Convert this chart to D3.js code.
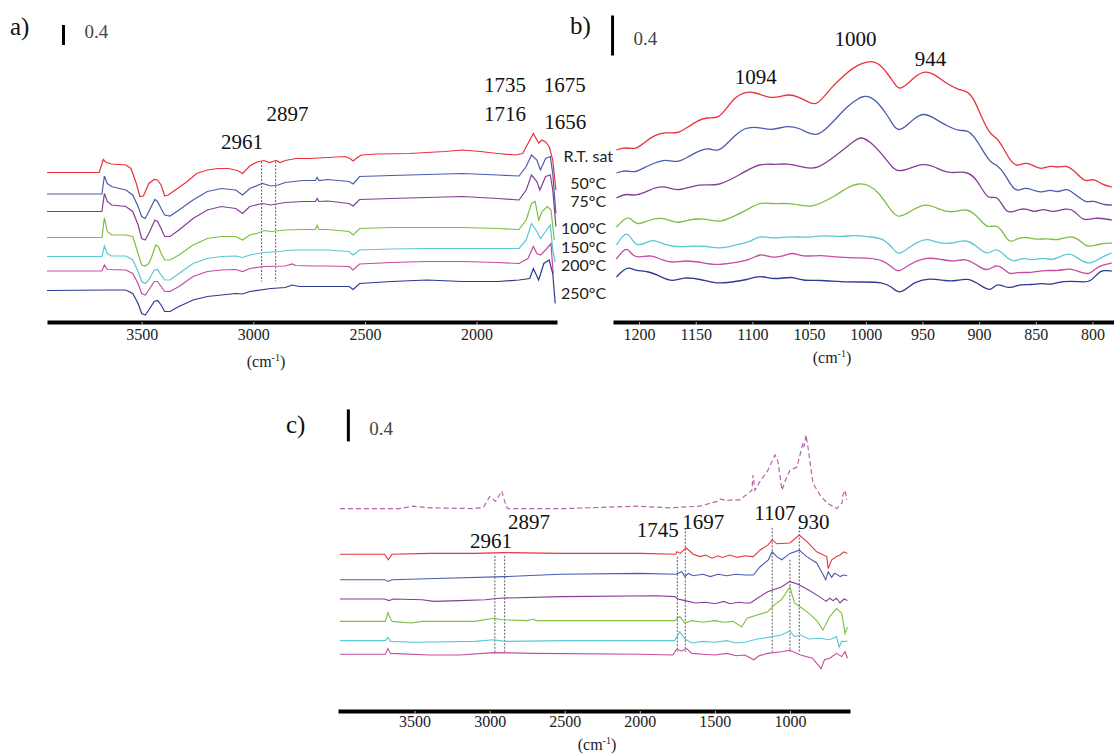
<!DOCTYPE html>
<html><head><meta charset="utf-8">
<script src="https://cdn.jsdelivr.net/npm/d3@7"></script>
<style>
body{margin:0;background:#fff}
svg{display:block}
.serif{font-family:"Liberation Serif","DejaVu Serif","Noto Serif","Times New Roman",Times,serif}
.sans{font-family:Lato,"Open Sans","Liberation Sans",sans-serif}
</style></head><body>
<svg id="chart" width="1114" height="754"></svg>
<script>
// ---------- DATA ----------
const seriesNames = ["R.T. sat", "50°C", "75°C", "100°C", "150°C", "200°C", "250°C"];
const seriesColors = ["#e8333c", "#4c5cab", "#853e96", "#7dbf42", "#5ac8d6", "#c54c9f", "#2f3893"];

const aTicks = [3500, 3000, 2500, 2000];
const bTicks = [1200, 1150, 1100, 1050, 1000, 950, 900, 850, 800];
const cTicks = [3500, 3000, 2500, 2000, 1500, 1000];

// Panel a (wavenumber, absorbance offset)
const aRT = [[3924,2.99],[3690,2.99],[3672,3.25],[3659,3.19],[3635,3.16],[3571,3.14],[3548,3.07],[3524,2.77],[3508,2.51],[3492,2.52],[3468,2.77],[3444,2.85],[3429,2.84],[3413,2.74],[3397,2.52],[3381,2.54],[3349,2.64],[3302,2.79],[3254,2.97],[3206,3.04],[3159,3.07],[3111,3.07],[3071,3.03],[3048,2.97],[3016,3.12],[2984,3.20],[2952,3.23],[2929,3.19],[2913,3.21],[2897,3.23],[2881,3.19],[2857,3.23],[2810,3.27],[2746,3.27],[2667,3.29],[2587,3.31],[2564,3.26],[2553,3.22],[2540,3.27],[2516,3.34],[2445,3.36],[2302,3.37],[2143,3.41],[2064,3.44],[1984,3.41],[1905,3.37],[1826,3.34],[1794,3.37],[1770,3.57],[1746,3.77],[1722,3.58],[1707,3.64],[1691,3.60],[1675,3.51],[1659,3.24],[1645,2.64]];
const a50 = [[3924,2.56],[3678,2.56],[3667,2.92],[3654,2.77],[3635,2.71],[3571,2.64],[3540,2.54],[3516,2.31],[3500,2.11],[3484,2.07],[3468,2.21],[3441,2.45],[3429,2.41],[3413,2.27],[3397,2.14],[3373,2.12],[3333,2.24],[3270,2.44],[3206,2.61],[3143,2.67],[3079,2.64],[3048,2.54],[3016,2.67],[2960,2.77],[2921,2.72],[2889,2.74],[2857,2.79],[2778,2.83],[2722,2.83],[2714,2.89],[2706,2.83],[2667,2.85],[2571,2.81],[2553,2.76],[2524,2.91],[2381,2.93],[2222,2.95],[2064,2.97],[1905,2.94],[1810,2.92],[1778,3.11],[1754,3.34],[1730,3.24],[1714,3.04],[1691,3.27],[1670,3.31],[1659,2.97],[1645,2.17]];
const a75 = [[3924,2.21],[3678,2.21],[3667,2.57],[3654,2.41],[3635,2.34],[3571,2.31],[3540,2.21],[3516,1.94],[3500,1.67],[3484,1.64],[3468,1.77],[3441,2.04],[3429,2.01],[3413,1.87],[3397,1.71],[3373,1.71],[3333,1.84],[3270,2.07],[3206,2.24],[3143,2.31],[3079,2.27],[3048,2.17],[3016,2.31],[2960,2.37],[2921,2.34],[2857,2.39],[2778,2.41],[2722,2.41],[2714,2.47],[2706,2.41],[2667,2.42],[2571,2.37],[2553,2.32],[2524,2.45],[2381,2.47],[2222,2.49],[2064,2.51],[1905,2.47],[1810,2.44],[1778,2.64],[1754,2.94],[1730,2.81],[1717,2.64],[1691,2.91],[1670,2.94],[1659,2.64],[1645,1.91]];
const a100 = [[3924,1.69],[3678,1.69],[3667,2.09],[3654,1.81],[3635,1.74],[3571,1.74],[3540,1.71],[3516,1.37],[3500,1.14],[3484,1.12],[3468,1.17],[3452,1.34],[3437,1.54],[3425,1.51],[3413,1.37],[3397,1.24],[3373,1.24],[3333,1.34],[3270,1.54],[3206,1.67],[3143,1.71],[3079,1.71],[3048,1.64],[3016,1.74],[2984,1.77],[2952,1.83],[2921,1.81],[2857,1.84],[2778,1.85],[2722,1.85],[2714,1.93],[2706,1.85],[2667,1.85],[2571,1.81],[2553,1.74],[2524,1.87],[2381,1.89],[2222,1.89],[2064,1.89],[1905,1.87],[1810,1.85],[1778,2.04],[1754,2.37],[1738,2.41],[1722,2.04],[1707,2.21],[1683,2.31],[1667,2.24],[1652,1.64]];
const a150 = [[3924,1.31],[3678,1.31],[3667,1.52],[3654,1.37],[3635,1.32],[3571,1.32],[3540,1.24],[3516,1.01],[3500,0.81],[3484,0.77],[3468,0.84],[3444,1.04],[3429,1.05],[3413,0.94],[3397,0.84],[3373,0.84],[3333,0.97],[3270,1.17],[3206,1.27],[3143,1.31],[3079,1.32],[3048,1.29],[3016,1.34],[2952,1.39],[2889,1.41],[2826,1.44],[2746,1.44],[2667,1.44],[2571,1.41],[2553,1.34],[2524,1.44],[2381,1.46],[2222,1.47],[2064,1.47],[1905,1.47],[1810,1.47],[1778,1.64],[1754,1.97],[1730,1.81],[1714,1.67],[1691,1.81],[1670,1.94],[1659,1.44],[1648,1.20]];
const a200 = [[3924,1.02],[3678,1.02],[3667,1.14],[3654,1.05],[3571,1.04],[3540,0.97],[3516,0.77],[3500,0.57],[3484,0.54],[3468,0.64],[3444,0.81],[3429,0.81],[3413,0.71],[3397,0.61],[3373,0.61],[3333,0.71],[3270,0.91],[3206,1.01],[3143,1.04],[3079,1.05],[3048,1.01],[3016,1.07],[2952,1.11],[2857,1.12],[2826,1.16],[2810,1.13],[2730,1.12],[2667,1.12],[2571,1.11],[2553,1.04],[2524,1.16],[2381,1.19],[2222,1.21],[2064,1.21],[1905,1.19],[1810,1.17],[1770,1.27],[1746,1.51],[1730,1.37],[1714,1.34],[1691,1.44],[1667,1.57],[1657,0.97]];
const a250 = [[3924,0.63],[3651,0.64],[3571,0.64],[3540,0.57],[3516,0.37],[3500,0.17],[3484,0.14],[3468,0.24],[3444,0.41],[3429,0.43],[3413,0.34],[3397,0.21],[3373,0.21],[3333,0.31],[3270,0.44],[3206,0.51],[3143,0.54],[3079,0.57],[3048,0.56],[3016,0.61],[2921,0.67],[2857,0.69],[2826,0.74],[2794,0.71],[2699,0.71],[2571,0.71],[2553,0.65],[2524,0.77],[2381,0.81],[2222,0.84],[2064,0.81],[1905,0.81],[1810,0.84],[1762,0.87],[1746,1.07],[1722,0.84],[1699,1.17],[1675,1.24],[1659,0.97],[1648,0.37]];

// Panel b
const bRT = [[1220,1.72],[1212,1.75],[1203,1.72],[1195,1.80],[1186,1.87],[1177,1.90],[1166,1.88],[1157,1.95],[1149,2.01],[1140,2.05],[1130,2.03],[1122,2.15],[1115,2.25],[1107,2.30],[1099,2.30],[1092,2.27],[1084,2.24],[1076,2.25],[1068,2.28],[1059,2.25],[1051,2.20],[1045,2.17],[1039,2.22],[1030,2.35],[1019,2.47],[1010,2.55],[1003,2.59],[995,2.61],[989,2.59],[981,2.49],[975,2.39],[971,2.32],[964,2.37],[957,2.45],[949,2.51],[941,2.49],[933,2.42],[926,2.37],[918,2.32],[910,2.31],[904,2.22],[898,2.05],[890,1.87],[885,1.85],[879,1.75],[873,1.62],[867,1.55],[859,1.60],[853,1.57],[845,1.52],[837,1.57],[831,1.54],[823,1.57],[817,1.52],[811,1.45],[805,1.40],[799,1.44],[791,1.37],[783,1.35]];
const b50 = [[1220,1.49],[1212,1.52],[1203,1.49],[1195,1.55],[1186,1.59],[1177,1.63],[1166,1.59],[1157,1.65],[1146,1.72],[1138,1.74],[1130,1.70],[1122,1.79],[1115,1.87],[1107,1.94],[1099,1.95],[1092,1.94],[1084,1.92],[1076,1.94],[1068,1.96],[1059,1.94],[1051,1.89],[1043,1.86],[1034,1.94],[1025,2.05],[1016,2.16],[1006,2.24],[1002,2.26],[995,2.25],[989,2.19],[981,2.07],[975,1.95],[971,1.91],[964,1.96],[957,2.04],[949,2.09],[941,2.05],[933,1.99],[926,1.95],[918,1.91],[910,1.92],[904,1.85],[898,1.74],[890,1.59],[884,1.57],[878,1.49],[872,1.37],[867,1.30],[859,1.35],[853,1.32],[845,1.29],[837,1.33],[831,1.29],[823,1.34],[817,1.29],[811,1.24],[805,1.19],[799,1.22],[791,1.17],[783,1.17]];
const b75 = [[1220,1.24],[1211,1.29],[1203,1.25],[1186,1.35],[1177,1.36],[1166,1.30],[1146,1.39],[1130,1.35],[1109,1.49],[1093,1.59],[1081,1.57],[1070,1.59],[1053,1.54],[1043,1.53],[1028,1.65],[1009,1.82],[1005,1.85],[997,1.82],[981,1.62],[972,1.46],[949,1.62],[932,1.50],[923,1.49],[912,1.51],[902,1.44],[892,1.20],[884,1.29],[876,1.07],[867,1.12],[859,1.14],[851,1.09],[843,1.14],[836,1.09],[823,1.14],[816,1.12],[808,1.00],[799,1.05],[783,1.02]];
const b100 = [[1220,0.95],[1212,1.04],[1208,1.05],[1202,0.96],[1192,1.02],[1178,1.05],[1167,0.98],[1158,1.02],[1143,1.04],[1129,0.99],[1118,1.05],[1105,1.12],[1093,1.20],[1084,1.18],[1068,1.19],[1053,1.16],[1047,1.15],[1028,1.25],[1016,1.35],[1006,1.39],[997,1.37],[988,1.29],[980,1.15],[972,1.03],[963,1.09],[947,1.20],[935,1.12],[923,1.09],[912,1.14],[902,1.07],[893,0.93],[885,0.98],[879,0.90],[873,0.78],[867,0.84],[857,0.85],[850,0.82],[839,0.84],[831,0.81],[819,0.87],[811,0.82],[805,0.74],[795,0.78],[783,0.79]];
const b150 = [[1220,0.77],[1214,0.87],[1210,0.89],[1206,0.82],[1202,0.76],[1194,0.79],[1188,0.83],[1177,0.77],[1167,0.75],[1152,0.76],[1140,0.76],[1129,0.73],[1115,0.77],[1102,0.80],[1093,0.87],[1084,0.83],[1065,0.86],[1053,0.84],[1037,0.87],[1022,0.85],[1009,0.87],[997,0.85],[985,0.84],[977,0.75],[971,0.66],[963,0.74],[947,0.85],[938,0.79],[923,0.78],[912,0.83],[902,0.76],[893,0.66],[885,0.75],[878,0.67],[870,0.59],[861,0.65],[853,0.61],[843,0.65],[836,0.61],[826,0.67],[819,0.69],[811,0.62],[802,0.57],[792,0.65],[783,0.69]];
const b200 = [[1220,0.63],[1214,0.72],[1210,0.74],[1205,0.65],[1198,0.65],[1189,0.67],[1180,0.62],[1171,0.59],[1158,0.62],[1143,0.59],[1132,0.57],[1118,0.59],[1102,0.62],[1093,0.69],[1084,0.64],[1071,0.66],[1065,0.70],[1056,0.65],[1040,0.67],[1028,0.65],[1009,0.64],[997,0.64],[985,0.62],[977,0.55],[971,0.49],[963,0.57],[947,0.65],[935,0.63],[923,0.60],[912,0.64],[902,0.57],[893,0.50],[885,0.58],[879,0.54],[873,0.47],[867,0.50],[854,0.49],[842,0.52],[830,0.51],[820,0.54],[811,0.50],[803,0.47],[797,0.54],[791,0.57],[783,0.59]];
const b250 = [[1220,0.45],[1214,0.52],[1209,0.55],[1203,0.51],[1192,0.51],[1180,0.45],[1171,0.40],[1161,0.45],[1146,0.43],[1132,0.38],[1118,0.40],[1105,0.42],[1093,0.47],[1081,0.42],[1065,0.46],[1056,0.41],[1040,0.42],[1022,0.40],[1003,0.40],[985,0.40],[977,0.35],[971,0.28],[963,0.34],[957,0.40],[944,0.44],[929,0.41],[921,0.41],[910,0.44],[902,0.39],[895,0.34],[890,0.31],[884,0.39],[878,0.35],[871,0.34],[864,0.38],[854,0.37],[845,0.39],[837,0.37],[830,0.40],[820,0.41],[808,0.40],[802,0.40],[795,0.49],[791,0.52],[783,0.51]];

// Panel c
const cRef = [[3997,2.53],[3600,2.53],[3511,2.56],[3400,2.54],[3100,2.53],[3040,2.55],[3000,2.68],[2960,2.62],[2920,2.75],[2890,2.56],[2878,2.53],[2500,2.53],[2019,2.56],[1800,2.54],[1600,2.56],[1486,2.62],[1466,2.65],[1420,2.63],[1379,2.64],[1333,2.64],[1280,2.72],[1253,2.76],[1246,2.95],[1233,2.76],[1199,2.87],[1146,3.01],[1100,3.20],[1080,3.12],[1053,2.76],[1033,2.87],[1000,3.01],[953,3.05],[933,3.20],[913,3.35],[906,3.30],[893,3.45],[880,3.30],[847,2.85],[800,2.70],[753,2.60],[687,2.53],[653,2.60],[647,2.70],[633,2.76],[620,2.64]];
const cRT = [[3997,1.96],[3700,1.96],[3675,1.89],[3650,1.96],[3400,1.97],[3100,1.97],[2900,1.98],[2532,1.97],[2000,1.97],[1760,1.96],[1754,1.99],[1730,1.97],[1692,2.04],[1644,1.96],[1599,1.93],[1560,1.95],[1520,1.91],[1480,1.94],[1450,1.92],[1400,1.95],[1350,1.92],[1300,1.94],[1244,1.93],[1200,2.01],[1144,2.08],[1118,2.14],[1088,2.09],[1000,2.10],[938,2.20],[888,2.12],[822,1.99],[755,1.93],[745,1.78],[722,1.89],[690,1.93],[667,1.95],[640,1.99],[618,1.97]];
const c50 = [[3997,1.64],[3700,1.64],[3675,1.62],[3650,1.64],[3300,1.66],[2900,1.68],[2532,1.71],[2000,1.72],[1760,1.71],[1721,1.74],[1699,1.68],[1677,1.72],[1644,1.69],[1580,1.71],[1530,1.68],[1480,1.71],[1420,1.69],[1360,1.71],[1300,1.70],[1244,1.70],[1200,1.80],[1144,1.89],[1118,1.99],[1088,1.93],[1055,1.89],[1000,1.97],[938,2.01],[888,1.93],[822,1.85],[778,1.70],[762,1.64],[745,1.74],[722,1.67],[705,1.72],[689,1.71],[665,1.68],[645,1.70],[618,1.69]];
const c75 = [[3997,1.40],[3700,1.40],[3671,1.38],[3640,1.40],[3450,1.39],[3373,1.37],[3200,1.38],[3029,1.39],[2937,1.41],[2525,1.43],[1882,1.44],[1768,1.43],[1745,1.40],[1699,1.38],[1630,1.35],[1560,1.36],[1500,1.34],[1440,1.37],[1400,1.34],[1340,1.36],[1300,1.35],[1263,1.35],[1217,1.41],[1148,1.49],[1057,1.55],[1000,1.62],[943,1.58],[873,1.51],[804,1.43],[759,1.37],[735,1.41],[713,1.38],[690,1.41],[667,1.35],[640,1.40],[617,1.38]];
const c100 = [[3997,1.12],[3694,1.12],[3678,1.23],[3660,1.15],[3648,1.12],[3522,1.10],[3450,1.12],[3100,1.12],[2972,1.16],[2914,1.14],[2750,1.13],[2708,1.15],[2690,1.13],[2200,1.13],[1800,1.13],[1768,1.13],[1734,1.18],[1699,1.10],[1653,1.13],[1580,1.11],[1500,1.13],[1440,1.11],[1378,1.12],[1321,1.05],[1286,1.16],[1148,1.24],[1103,1.33],[1057,1.39],[1000,1.55],[970,1.35],[930,1.30],[873,1.22],[816,1.12],[781,1.01],[735,1.18],[690,1.28],[655,1.22],[633,0.97],[617,1.05]];
const c150 = [[3997,0.88],[3694,0.88],[3678,0.92],[3660,0.87],[3500,0.86],[3100,0.87],[2972,0.89],[2900,0.87],[2500,0.88],[1768,0.88],[1734,0.99],[1699,0.90],[1653,0.85],[1580,0.87],[1500,0.86],[1420,0.88],[1360,0.85],[1300,0.86],[1217,0.90],[1148,0.92],[1057,0.95],[1000,1.00],[970,0.93],[930,0.95],[873,0.90],[804,0.91],[735,0.89],[690,0.93],[672,0.80],[655,0.87],[617,0.87]];
const c200 = [[3997,0.71],[3694,0.71],[3678,0.78],[3660,0.72],[3400,0.70],[3200,0.70],[2972,0.73],[2700,0.72],[2000,0.71],[1780,0.70],[1756,0.77],[1722,0.75],[1688,0.78],[1653,0.72],[1580,0.71],[1500,0.70],[1420,0.72],[1360,0.69],[1300,0.70],[1240,0.64],[1206,0.69],[1148,0.72],[1057,0.74],[1000,0.76],[930,0.70],[850,0.66],[793,0.53],[770,0.64],[735,0.66],[690,0.72],[655,0.68],[633,0.74],[617,0.66]];

// Marker (dashed guide) lines: [wavenumber, top, bottom]
const aGuides = [[2963,3.21,0.81],[2900,3.21,0.81]];
const cGuides = [[2965,1.94,0.74],[2900,1.94,0.74],[1750,1.93,0.74],[1697,2.29,0.74],[1118,2.29,0.74],[1000,1.89,0.74],[938,2.30,0.74]];

// Peak annotations: [text, wavenumber, value]
const aPeaks = [["2961",3051,3.61],["2897",2847,4.17],["1735",1873,4.74],["1716",1873,4.17],["1675",1605,4.74],["1656",1603,4.01]];
const bPeaks = [["1094",1097,2.455],["1000",1009,2.835],["944",943,2.635]];
const cPeaks = [["2961",2991,2.12],["2897",2738,2.36],["1745",1881,2.26],["1697",1577,2.36],["1107",1100,2.475],["930",842,2.36]];

// Temperature labels: [text, value, wavenumber anchor] (placed at left of panel b)
const tempLabels = [["R.T. sat",1.67,1223],["50°C",1.40,1229],["75°C",1.22,1229],["100°C",0.95,1229],["150°C",0.76,1229],["200°C",0.58,1229],["250°C",0.30,1229]];

// ---------- DRAW ----------
const svg = d3.select("#chart");

function panel(opts) {
  const g = svg.append("g");
  const x = d3.scaleLinear().domain(opts.xDomain).range(opts.xRange);
  const y = d3.scaleLinear().domain([0, 1]).range([opts.axisY, opts.axisY - opts.pxPerUnit]);
  const line = d3.line().x(d => x(d[0])).y(d => y(d[1])).curve(opts.curve);

  // axis
  const ax = g.append("g").attr("transform", `translate(0,${opts.axisY})`)
    .call(d3.axisBottom(x).tickValues(opts.ticks).tickSize(3).tickSizeOuter(0)
      .tickPadding(opts.tickPad).tickFormat(d3.format("d")));
  ax.attr("font-family", null).attr("font-size", null).attr("class", "serif");
  ax.select(".domain").attr("stroke", "#000").attr("stroke-width", 4);
  ax.selectAll(".tick line").attr("stroke", "#bbb");
  ax.selectAll(".tick text").attr("class", "serif").style("font-size", "16px").attr("fill", "#222");

  // axis title
  const t = g.append("text").attr("class", "serif").attr("x", opts.titleX).attr("y", opts.titleY)
    .attr("text-anchor", "middle").style("font-size", "16px").attr("fill", "#222");
  t.append("tspan").text("(cm");
  t.append("tspan").text("-1").style("font-size", "10px").attr("dy", -6);
  t.append("tspan").text(")").attr("dy", 6);

  // guide lines
  g.selectAll(".guide").data(opts.guides || []).join("line")
    .attr("x1", d => x(d[0])).attr("x2", d => x(d[0]))
    .attr("y1", d => y(d[1])).attr("y2", d => y(d[2]))
    .attr("stroke", "#333").attr("stroke-width", 0.8).attr("stroke-dasharray", "2,1.5");

  // reference (dashed) spectrum
  if (opts.ref) {
    g.append("path").datum(opts.ref).attr("d", line).attr("fill", "none")
      .attr("stroke", "#b862ac").attr("stroke-width", 1.2).attr("stroke-dasharray", "5,3");
  }

  // spectra
  g.selectAll(".spec").data(opts.series).join("path")
    .attr("d", d => line(d)).attr("fill", "none")
    .attr("stroke", (d, i) => seriesColors[i]).attr("stroke-width", opts.lw);

  // peak labels
  g.selectAll(".pk").data(opts.peaks).join("text")
    .attr("class", "serif")
    .attr("x", d => x(d[1])).attr("y", d => y(d[2]))
    .attr("text-anchor", "middle").attr("dominant-baseline", "central")
    .style("font-size", opts.peakSize + "px").attr("fill", "#111")
    .text(d => d[0]);

  // panel letter & scale bar
  g.append("text").attr("class", "serif").attr("x", opts.letterX).attr("y", opts.letterY)
    .style("font-size", "25px").attr("fill", "#111")
    .attr("dominant-baseline", "central").text(opts.letter);
  const bx = x(opts.bar[0]);
  g.append("line").attr("x1", bx).attr("x2", bx)
    .attr("y1", y(opts.bar[1])).attr("y2", y(opts.bar[1] + 0.4))
    .attr("stroke", "#000").attr("stroke-width", 3);
  g.append("text").attr("class", "serif").attr("x", bx + 21).attr("y", y(opts.bar[1] + 0.2) + opts.barTextDy)
    .style("font-size", "19px").attr("fill", "#444")
    .attr("dominant-baseline", "central").text("0.4");
  return {x, y, g};
}

panel({
  xDomain: [3924, 1640], xRange: [47, 557], axisY: 322, pxPerUnit: 50,
  ticks: aTicks, tickPad: 4, titleX: 266, titleY: 367,
  series: [aRT, a50, a75, a100, a150, a200, a250], curve: d3.curveLinear, lw: 1.2,
  guides: aGuides, peaks: aPeaks, peakSize: 21,
  letter: "a)", letterX: 10, letterY: 26, bar: [3850, 5.54], barTextDy: -4
});

const pb = panel({
  xDomain: [1223, 781], xRange: [613, 1114], axisY: 322, pxPerUnit: 100,
  ticks: bTicks, tickPad: 4, titleX: 832, titleY: 363,
  series: [bRT, b50, b75, b100, b150, b200, b250], curve: d3.curveBasis, lw: 1.3,
  guides: [], peaks: bPeaks, peakSize: 21,
  letter: "b)", letterX: 570, letterY: 25, bar: [1223.4, 2.665], barTextDy: 3
});

pb.g.selectAll(".tl").data(tempLabels).join("text")
  .attr("class", "sans")
  .attr("x", d => pb.x(d[2])).attr("y", d => pb.y(d[1]))
  .attr("text-anchor", "end").attr("dominant-baseline", "central")
  .style("font-size", "16px").attr("fill", "#222")
  .text(d => d[0]);

panel({
  xDomain: [4010, 600], xRange: [338, 850], axisY: 711, pxPerUnit: 80,
  ticks: cTicks, tickPad: 2, titleX: 597, titleY: 750,
  series: [cRT, c50, c75, c100, c150, c200], curve: d3.curveLinear, lw: 1.1,
  ref: cRef, guides: cGuides, peaks: cPeaks, peakSize: 21,
  letter: "c)", letterX: 286, letterY: 424, bar: [3941, 3.37], barTextDy: 3
});
</script>
</body></html>
